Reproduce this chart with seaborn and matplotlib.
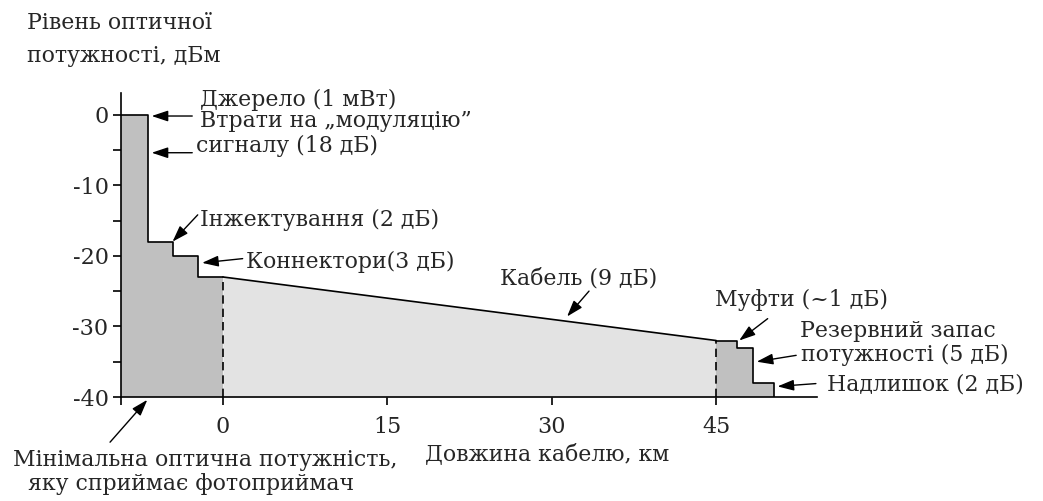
import seaborn as sns
import matplotlib.pyplot as plt
import matplotlib
import numpy as np

matplotlib.use('Agg')

# Бюджет потужності оптичної лінії (дБм) вздовж довжини кабелю (км)
tx_km = [-9.3, -6.8, -4.6, -2.3, 0.0]      # межі ділянок передавача
tx_dbm = [0, -18, -20, -23]                # рівень на кожній ділянці
cable_km = [0.0, 45.0]
cable_dbm = [-23, -32]
rx_km = [45.0, 46.9, 48.4, 50.3]           # муфти, запас, надлишок
rx_dbm = [-32, -33, -38]
floor_dbm = -40

x_ticks = [0, 15, 30, 45]
y_ticks = [0, -10, -20, -30, -40]
y_minor = [-5, -15, -25, -35]

W, H = 1043, 501

sns.set_style("white")
plt.rcParams['font.family'] = ['DejaVu Serif', 'Liberation Serif']
plt.rcParams['axes.unicode_minus'] = False

fig = plt.figure(figsize=(W / 100, H / 100), dpi=100)
# осі розміщені так, щоб вісь y була на x=121px, а вісь x на y=397px
ax = fig.add_axes([121 / W, (H - 397) / H, 696 / W, 304 / H])
ax.set_xlim(tx_km[0], 54.2)
ax.set_ylim(floor_dbm, 3.06)

dark = "#c0c0c0"
light = "#e3e3e3"

# ділянка передавача
tx_y = tx_dbm + [tx_dbm[-1]]
ax.fill_between(tx_km, tx_y, floor_dbm, step="post", color=dark, lw=0)
ax.step(tx_km, tx_y, where="post", color="black", lw=1.2)

# кабель
ax.fill_between(cable_km, cable_dbm, floor_dbm, color=light, lw=0)
sns.lineplot(x=cable_km, y=cable_dbm, ax=ax, color="black", lw=1.2)

# приймач
rx_x = rx_km + [rx_km[-1]]
rx_y = rx_dbm + [rx_dbm[-1], floor_dbm]
ax.fill_between(rx_km, rx_dbm + [rx_dbm[-1]], floor_dbm, step="post", color=dark, lw=0)
ax.step(rx_x, rx_y, where="post", color="black", lw=1.2)

# пунктирні межі кабелю
for xk, yk in zip(cable_km, cable_dbm):
    ax.plot([xk, xk], [floor_dbm, yk], color="black", lw=1.2, ls=(0, (5, 3)))

for s in ["top", "right"]:
    ax.spines[s].set_visible(False)
for s in ["left", "bottom"]:
    ax.spines[s].set_linewidth(1.2)
    ax.spines[s].set_color("black")

ax.set_xticks(x_ticks)
ax.set_xticks([tx_km[0]], minor=True)
ax.set_yticks(y_ticks)
ax.set_yticks(y_minor, minor=True)
ax.set_yticklabels([str(v) for v in y_ticks])
ax.tick_params(which="both", direction="out", length=6, width=1.2, color="black",
               labelsize=16, left=True, bottom=True)
ax.tick_params(axis="y", pad=3)
ax.tick_params(axis="x", pad=8)


def px(x, y):
    return x / W, 1 - y / H


def label(x, y, s, size=15.8):
    fig.text(*px(x, y), s, ha="left", va="baseline", fontsize=size)


def arrow(head, tail):
    ax.annotate("", xy=head, xytext=tail, xycoords="data", textcoords="data",
                annotation_clip=False,
                arrowprops=dict(arrowstyle="-|>,head_length=0.9,head_width=0.3",
                                color="black", lw=1, shrinkA=0, shrinkB=0,
                                mutation_scale=11))


label(27, 29, "Рівень оптичної")
label(27, 62, "потужності, дБм")

label(200, 106, "Джерело (1 мВт)")
label(200, 127, "Втрати на „модуляцію”")
label(196, 152, "сигналу (18 дБ)")
label(200, 226, "Інжектування (2 дБ)")
label(246, 268, "Коннектори(3 дБ)")
label(500, 285, "Кабель (9 дБ)")
label(715, 306, "Муфти (~1 дБ)")
label(800, 337, "Резервний запас")
label(801, 361, "потужності (5 дБ)")
label(827, 390, "Надлишок (2 дБ)")
label(13, 466, "Мінімальна оптична потужність,")
label(28, 490, "яку сприймає фотоприймач")
label(425, 460, "Довжина кабелю, км")

arrow((tx_km[1] + 0.3, tx_dbm[0] - 0.2), (tx_km[1] + 4.0, tx_dbm[0] - 0.2))
arrow((tx_km[1] + 0.3, -5.4), (tx_km[1] + 4.0, -5.4))
arrow((tx_km[2], tx_dbm[1]), (tx_km[3], -14.2))
arrow((tx_km[3] + 0.4, -21.0), (1.8, -20.4))
arrow((31.4, -28.6), (33.4, -25.0))
arrow((rx_km[1] + 0.2, rx_dbm[0]), (rx_km[2] + 1.3, -28.9))
arrow((rx_km[2] + 0.3, -35.0), (52.3, -34.1))
arrow((rx_km[3] + 0.3, -38.5), (54.1, -38.1))
arrow((tx_km[0] + 2.4, floor_dbm - 0.4), (tx_km[0] - 1.0, -46.4))

fig.savefig("out.png", dpi=100)
